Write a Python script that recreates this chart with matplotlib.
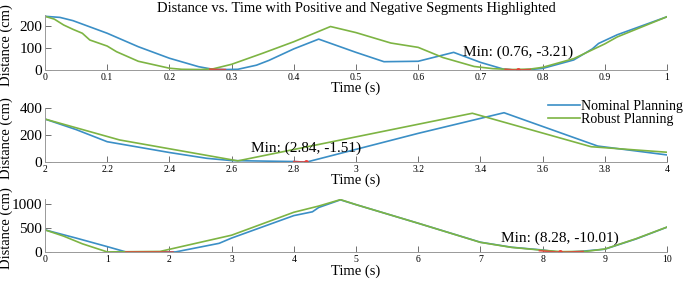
import matplotlib
matplotlib.use("Agg")
import matplotlib.pyplot as plt
from matplotlib.ticker import FormatStrFormatter

plt.rcParams['font.family'] = ['Liberation Serif', 'DejaVu Serif']

# panel 1 : 0 - 1 s
t1_nom = [0, 0.024, 0.045, 0.1, 0.15, 0.2, 0.247, 0.268, 0.29, 0.31, 0.34, 0.36, 0.40, 0.44,
          0.50, 0.545, 0.60, 0.657, 0.70, 0.737, 0.76, 0.78, 0.80, 0.85, 0.88, 0.89, 0.92, 1.0]
d1_nom = [245, 240, 225, 167, 105, 52, 13, 2, 0, 1, 20, 42, 95, 140,
          79, 36, 38, 79, 33, 2, -3.21, 0, 5, 44, 95, 120, 160, 243]
t1_rob = [0, 0.015, 0.03, 0.045, 0.06, 0.072, 0.1, 0.115, 0.15, 0.2, 0.22, 0.25, 0.27, 0.3,
          0.35, 0.4, 0.459, 0.50, 0.556, 0.6, 0.64, 0.69, 0.72, 0.75, 0.78, 0.8, 0.85, 0.9, 0.92, 1.0]
d1_rob = [245, 232, 205, 185, 167, 136, 108, 82, 38, 6, 1, 0, 3, 24,
          75, 128, 198, 170, 122, 102, 55, 14, 4, 0, 2, 10, 50, 118, 150, 243]
t1_red = [[0.265, 0.278, 0.29], [0.74, 0.76, 0.78]]
d1_red = [[2, 0, 0], [1, -3.21, 0]]
min1 = (0.76, -3.21)

# panel 2 : 2 - 4 s
t2_nom = [2.0, 2.1, 2.2, 2.4, 2.52, 2.6, 2.8, 2.84, 3.2, 3.476, 3.777, 4.0]
d2_nom = [318, 240, 150, 70, 27, 10, 3, -1.51, 212, 365, 118, 52]
t2_rob = [2.0, 2.24, 2.62, 3.374, 3.756, 4.0]
d2_rob = [318, 163, 8, 361, 113, 72]
t2_red = [[2.80, 2.84]]
d2_red = [[3, -1.51]]
min2 = (2.84, -1.51)

# panel 3 : 0 - 10 s
t3_nom = [0, 0.5, 1.0, 1.3, 2.1, 2.8, 3.0, 4.0, 4.3, 4.4, 4.75, 5.0, 6.0, 7.0, 7.5,
          8.0, 8.28, 8.6, 9.0, 9.5, 10]
d3_nom = [461, 290, 111, 0, 0, 180, 290, 760, 840, 930, 1090, 990, 600, 203, 98,
          40, -10.01, 10, 57, 270, 518]
t3_rob = [0, 0.3, 0.6, 1.0, 1.85, 3.0, 4.0, 4.4, 4.75, 5.0, 6.0, 7.0, 7.5, 8.0, 8.3,
          8.7, 9.0, 9.5, 10]
d3_rob = [461, 330, 170, 0, 10, 350, 830, 960, 1095, 990, 600, 200, 95, 35, 5,
          12, 60, 275, 520]
t3_red = [[1.3, 1.7, 2.05], [7.95, 8.28, 8.65]]
d3_red = [[0, 0, 0], [25, -10.01, 8]]
min3 = (8.28, -10.01)

blue = '#3b8fc6'
green = '#7db443'
red = '#e8403a'

fig = plt.figure(figsize=(6.85, 2.82), dpi=100)

panels = [
    (t1_nom, d1_nom, t1_rob, d1_rob, t1_red, d1_red, min1, (0, 1), (-3.21, 250),
     [0, 0.1, 0.2, 0.3, 0.4, 0.5, 0.6, 0.7, 0.8, 0.9, 1], [0, 100, 200], [0.0657, 0.751, 0.908, 0.195], 13),
    (t2_nom, d2_nom, t2_rob, d2_rob, t2_red, d2_red, min2, (2, 4), (-1.51, 400),
     [2, 2.2, 2.4, 2.6, 2.8, 3, 3.2, 3.4, 3.6, 3.8, 4], [0, 200, 400], [0.0657, 0.425, 0.908, 0.192], 10),
    (t3_nom, d3_nom, t3_rob, d3_rob, t3_red, d3_red, min3, (0, 10), (-10.01, 1100),
     list(range(11)), [0, 500, 1000], [0.0657, 0.105, 0.908, 0.188], 10),
]

axes = []
for (tn, dn, tr, dr, tred, dred, mn, xl, yl, xt, yt, pos, off) in panels:
    ax = fig.add_axes(pos)
    ax.plot(tn, dn, color=blue, lw=1.2, label='Nominal Planning')
    ax.plot(tr, dr, color=green, lw=1.2, label='Robust Planning')
    for tt, dd in zip(tred, dred):
        ax.plot(tt, dd, color=red, lw=1.2, alpha=0.85)
    ax.plot([mn[0]], [mn[1]], 'o', color=red, ms=2.5)
    ax.annotate('Min: (%.2f, %.2f)' % mn, xy=mn, xytext=(0, off), textcoords='offset points',
                ha='center', va='center', fontsize=11)
    ax.set_xlim(*xl)
    ax.set_ylim(*yl)
    ax.set_xticks(xt)
    ax.set_yticks(yt)
    ax.xaxis.set_major_formatter(FormatStrFormatter('%g'))
    ax.tick_params(direction='in', length=4, width=0.6, color='0.35')
    ax.tick_params(axis='x', labelsize=7, pad=2)
    ax.tick_params(axis='y', labelsize=11, pad=2)
    for s in ['top', 'right']:
        ax.spines[s].set_visible(False)
    for s in ['left', 'bottom']:
        ax.spines[s].set_color('0.6')
        ax.spines[s].set_linewidth(0.7)
    ax.set_xlabel('Time (s)', fontsize=10.5, labelpad=0)
    ax.set_ylabel('Distance (cm)', fontsize=10.5)
    ax.yaxis.set_label_coords(-0.052, 0.45)
    axes.append(ax)

axes[0].set_title('Distance vs. Time with Positive and Negative Segments Highlighted',
                  fontsize=10.5, pad=2)

h, l = axes[1].get_legend_handles_labels()
fig.legend(h, l, loc='upper right', bbox_to_anchor=(1.005, 0.665), frameon=False,
           fontsize=10, handlelength=2.3, handletextpad=0.1, labelspacing=0.0,
           borderaxespad=0)

fig.savefig('out.png', dpi=100)
